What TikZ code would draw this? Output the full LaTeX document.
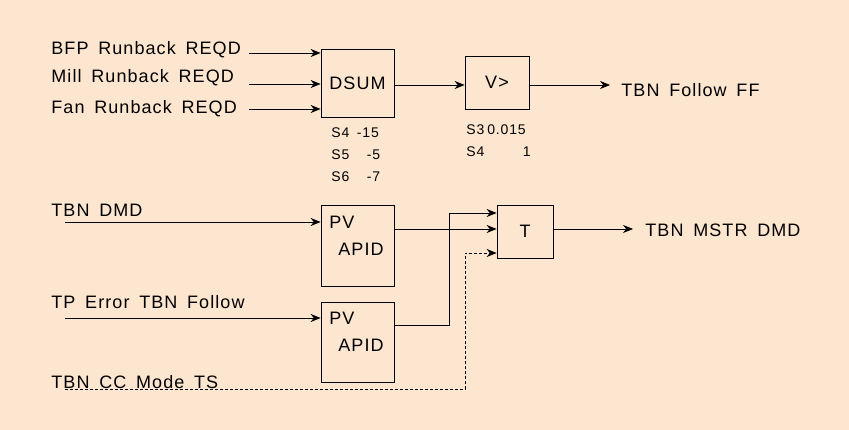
\documentclass[tikz,border=0pt]{standalone}
\usepackage{fontspec}
\setmainfont{Liberation Sans}[LetterSpace=6,WordSpace=1.6]
\usetikzlibrary{arrows.meta}
\definecolor{peach}{RGB}{253,230,208}

\begin{document}
\begin{tikzpicture}[x=1pt,y=-1pt,>={Stealth[length=10pt,width=8pt]},
        line width=0.8pt,
        block/.style={draw,inner sep=0pt,font=\fontsize{18}{20}\selectfont},
        label node/.style={anchor=west,inner sep=0pt,font=\fontsize{18}{20}\selectfont},
        param/.style={anchor=west,inner sep=0pt,font=\fontsize{14}{22}\selectfont,align=left}]

    \fill[peach] (0,0) rectangle (849,430);

    % blocks
    \node[block, minimum width=73pt, minimum height=68pt] (dsum) at (357.5,83) {DSUM};
    \node[block, minimum width=64pt, minimum height=53pt] (vmax) at (497,82.5) {V>};
    \node[block, minimum width=73pt, minimum height=81pt] (pid1) at (357.5,245.5) {};
    \node[block, minimum width=73pt, minimum height=80pt] (pid2) at (357.5,342) {};
    \node[block, minimum width=56pt, minimum height=53pt] (tsel) at (525,231.5) {T};
    \node[label node] at (329,222) {PV};
    \node[label node] at (338,249) {APID};
    \node[label node] at (329,318) {PV};
    \node[label node] at (338,345) {APID};

    % parameters
    \node[param] (dsumpar) at (331,155) {S4 -15\\S5\ \ \,-5\\S6\ \ \,-7};
    \node[param] (vmaxpar) at (466,141) {S3\kern3pt0.015\\S4 \hspace{31pt}1};

    % signal names
    \node[label node] (bfp) at (51,50) {BFP Runback REQD};
    \node[label node] (mill) at (51,78) {Mill Runback REQD};
    \node[label node] (fan) at (51,109) {Fan Runback REQD};
    \node[label node] (ff) at (621,90) {TBN Follow FF};
    \node[label node] (tbndmd) at (51,210) {TBN DMD};
    \node[label node] (tperr) at (51,302) {TP Error TBN Follow};
    \node[label node] (ccmode) at (51,382) {TBN CC Mode TS};
    \node[label node] (mstr) at (645,230) {TBN MSTR DMD};

    \coordinate (ffend) at (610,85);
    \coordinate (mstrend) at (633,229);
    \coordinate (dmdin) at (65,222);
    \coordinate (errin) at (65,318);
    \coordinate (ccin) at (65,389);

    % connectors
    \draw[->] (249,53) -- (dsum.west |- 0,53);
    \draw[->] (249,84) -- (dsum.west |- 0,84);
    \draw[->] (249,109) -- (dsum.west |- 0,109);
    \draw[->] (dsum.east |- 0,85) -- (vmax.west |- 0,85);
    \draw[->] (vmax.east |- 0,85) -- (ffend);
    \draw[->] (dmdin) -- (pid1.west |- dmdin);
    \draw[->] (errin) -- (pid2.west |- errin);
    \draw[->] (pid2.east |- 0,325) -| (449,213) -- (tsel.west |- 0,213);
    \draw[->] (pid1.east |- 0,229) -- (tsel.west |- 0,229);
    \draw[->, dashed, dash pattern=on 3pt off 2pt] (ccin) -| (465,253) -- (tsel.west |- 0,253);
    \draw[->] (tsel.east |- mstrend) -- (mstrend);

\end{tikzpicture}
\end{document}
